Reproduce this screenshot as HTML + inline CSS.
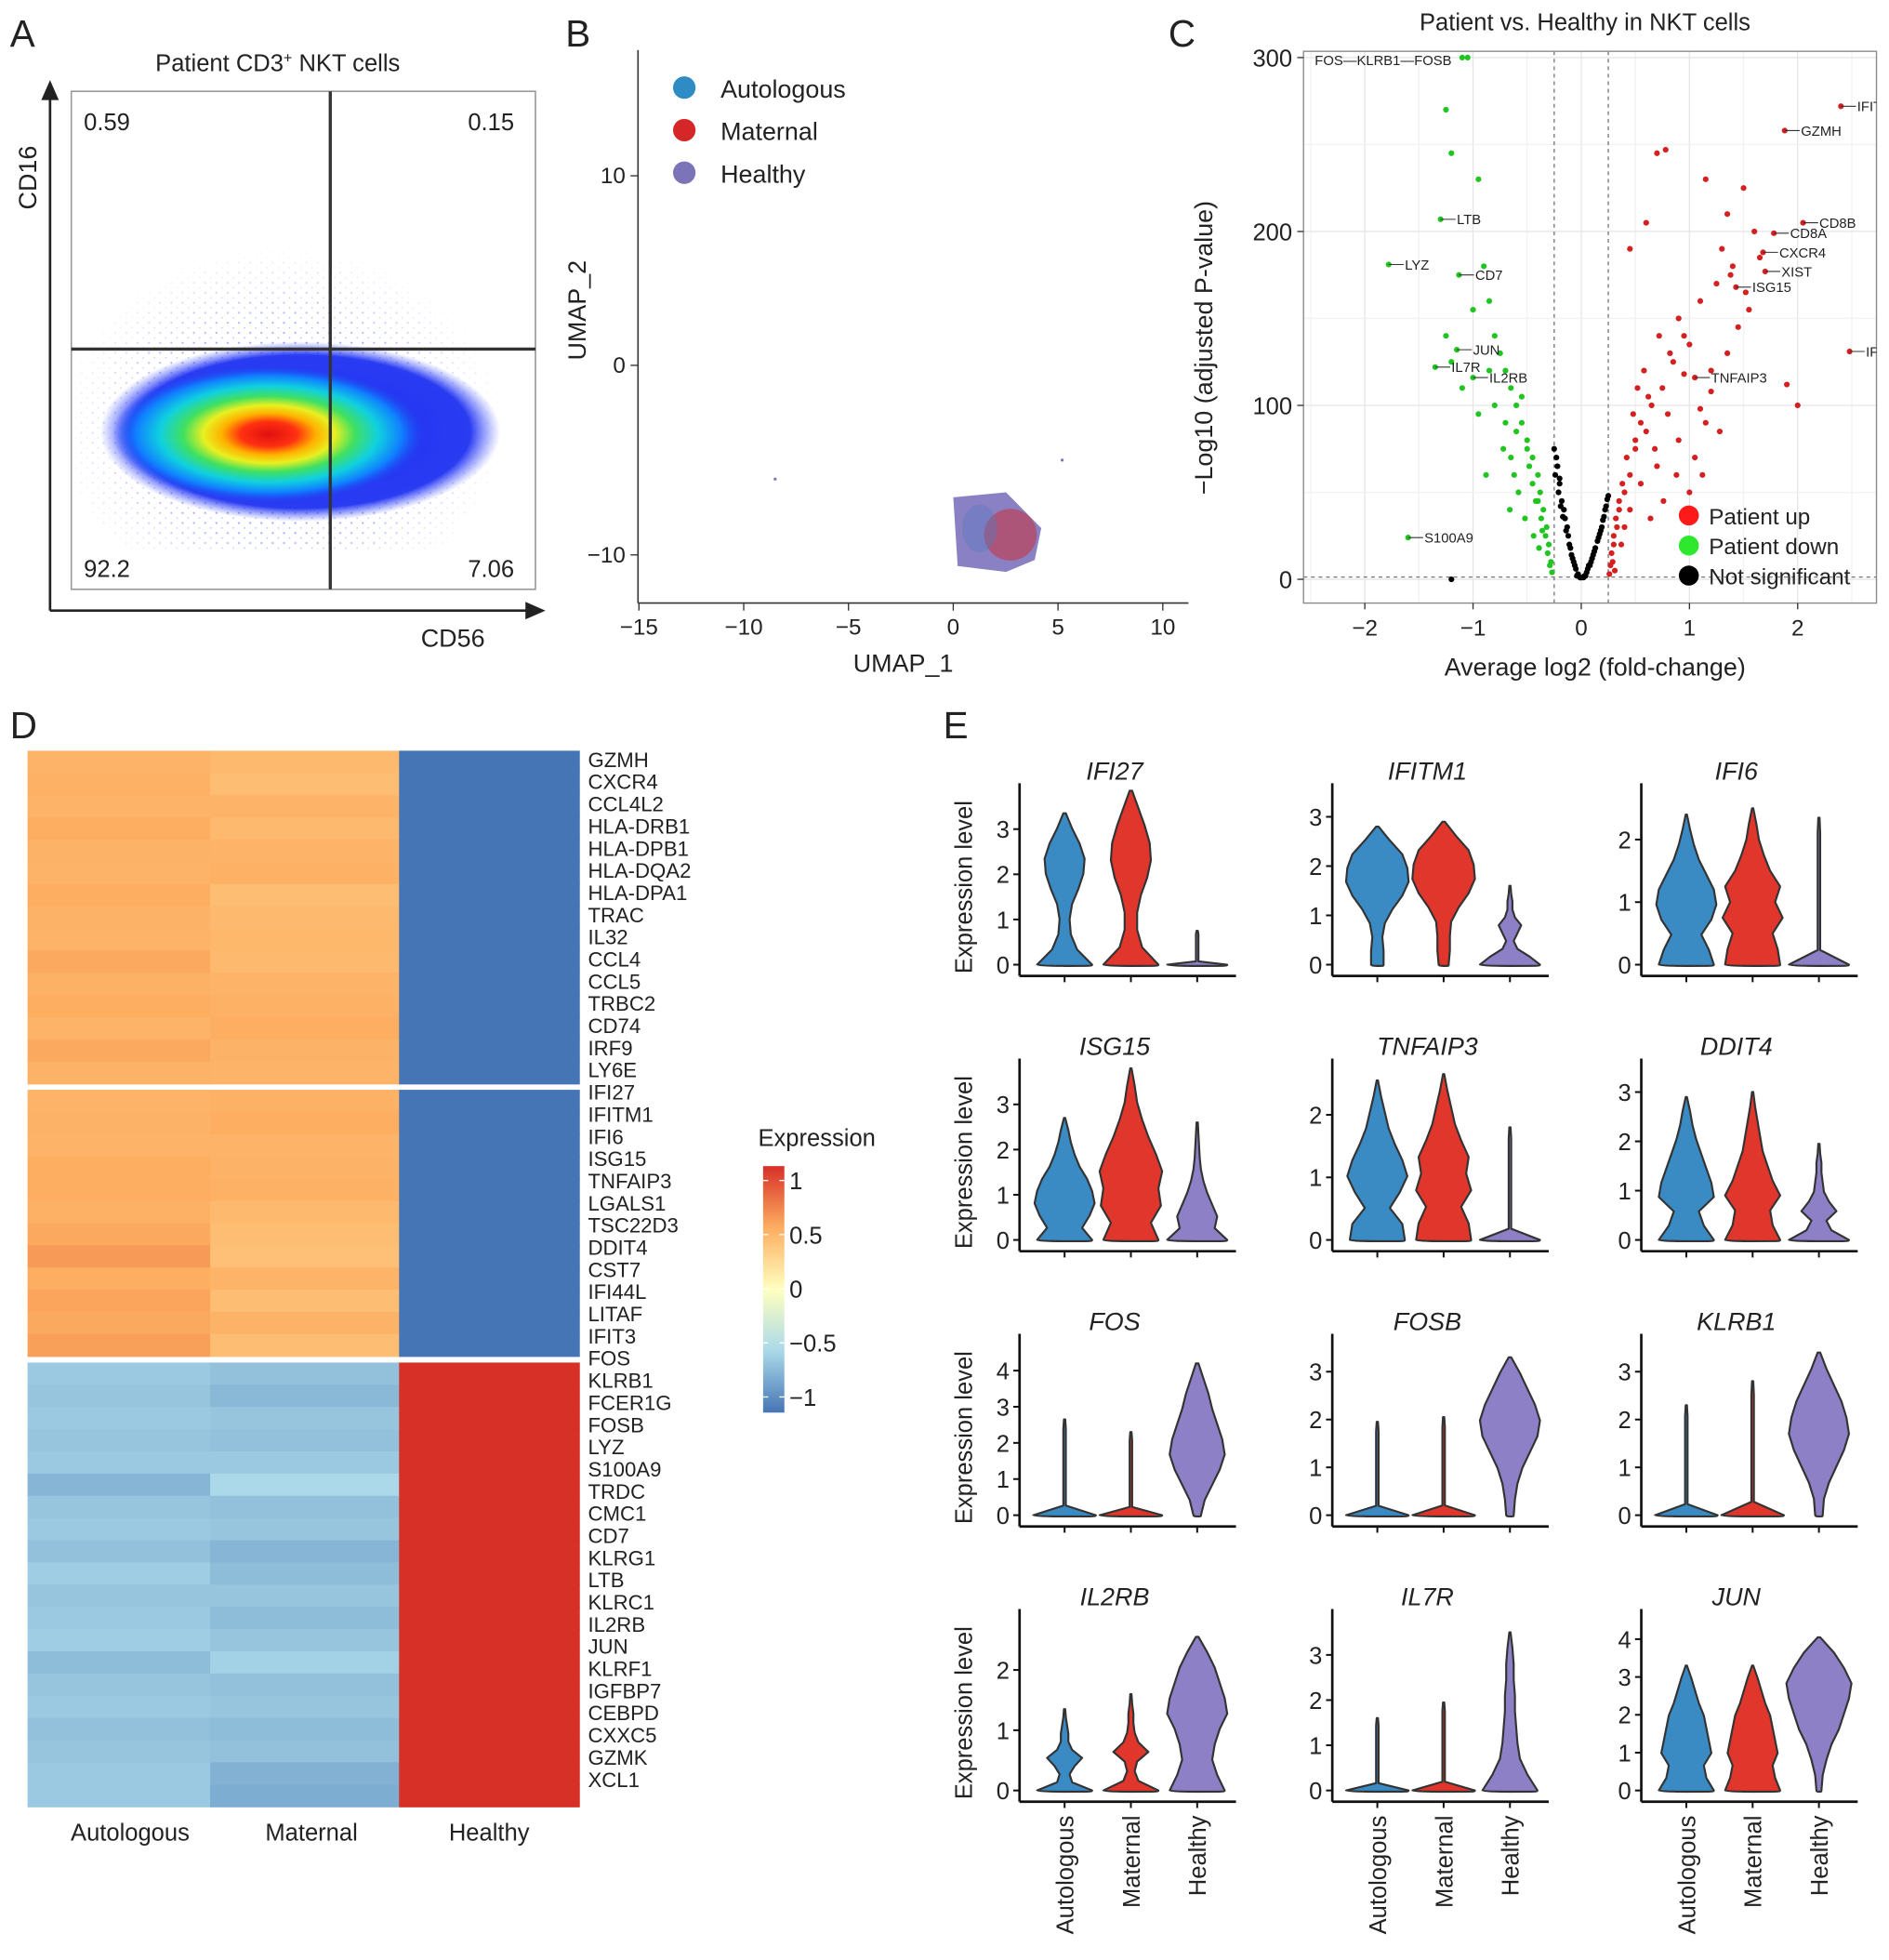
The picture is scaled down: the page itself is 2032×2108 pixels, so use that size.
<!DOCTYPE html>
<html><head><meta charset="utf-8"><style>
html,body{margin:0;padding:0;background:#fff}
svg{display:block}
text{font-family:"Liberation Sans",Arial,sans-serif;fill:#222}
</style></head><body>
<svg id="fig" width="2032" height="2108" viewBox="0 0 1510 1566.5" xmlns="http://www.w3.org/2000/svg">
<defs>
<radialGradient id="gBlue" cx="50%" cy="50%" r="50%"><stop offset="0" stop-color="#1a2cf0"/><stop offset="0.85" stop-color="#2a3cf2"/><stop offset="1" stop-color="#5060ff" stop-opacity="0"/></radialGradient>
<radialGradient id="gJet" cx="50%" cy="50%" r="50%"><stop offset="0" stop-color="#e01010"/><stop offset="0.18" stop-color="#ff3010"/><stop offset="0.3" stop-color="#ffb000"/><stop offset="0.42" stop-color="#e8f020"/><stop offset="0.55" stop-color="#40e060"/><stop offset="0.7" stop-color="#10d0e0"/><stop offset="0.85" stop-color="#1080ff"/><stop offset="1" stop-color="#2040f0" stop-opacity="0"/></radialGradient>
<radialGradient id="gFade" cx="50%" cy="55%" r="50%"><stop offset="0" stop-color="#fff" stop-opacity="1"/><stop offset="0.6" stop-color="#fff" stop-opacity="0.6"/><stop offset="1" stop-color="#fff" stop-opacity="0"/></radialGradient>
<mask id="fadeMask"><ellipse cx="225" cy="330" rx="180" ry="150" fill="url(#gFade)"/></mask>
<pattern id="dots" width="9" height="8" patternUnits="userSpaceOnUse"><circle cx="2" cy="2" r="0.8" fill="#3040ff"/><circle cx="6.5" cy="6" r="0.6" fill="#5060ff"/></pattern>
<linearGradient id="cbar" x1="0" y1="1" x2="0" y2="0"><stop offset="0" stop-color="#4575b4"/><stop offset="0.25" stop-color="#abd9e9"/><stop offset="0.5" stop-color="#ffffbf"/><stop offset="0.75" stop-color="#fdae61"/><stop offset="1" stop-color="#d73027"/></linearGradient>
</defs>

<g>
<text x="8" y="37" font-size="30">A</text>
<text x="222" y="57" font-size="19" text-anchor="middle">Patient CD3<tspan dy="-7" font-size="12">+</tspan><tspan dy="7"> NKT cells</tspan></text>
<rect x="57" y="73" width="371" height="398" fill="none" stroke="#999" stroke-width="1.2"/>
<rect x="57" y="140" width="371" height="300" fill="url(#dots)" mask="url(#fadeMask)" opacity="0.7"/>
<ellipse cx="240" cy="345" rx="160" ry="72" fill="url(#gBlue)"/>
<ellipse cx="215" cy="347" rx="125" ry="55" fill="url(#gJet)"/>
<line x1="57" y1="279" x2="428" y2="279" stroke="#333" stroke-width="2.5"/>
<line x1="264" y1="73" x2="264" y2="471" stroke="#333" stroke-width="2.5"/>
<text x="67" y="104" font-size="19">0.59</text>
<text x="411" y="104" font-size="19" text-anchor="end">0.15</text>
<text x="67" y="461" font-size="19">92.2</text>
<text x="411" y="461" font-size="19" text-anchor="end">7.06</text>
<line x1="40" y1="488" x2="40" y2="75" stroke="#222" stroke-width="2"/>
<polygon points="40,64 33,80 47,80" fill="#222"/>
<line x1="40" y1="488" x2="425" y2="488" stroke="#222" stroke-width="2"/>
<polygon points="436,488 420,481 420,495" fill="#222"/>
<text transform="translate(29,142) rotate(-90)" font-size="20" text-anchor="middle">CD16</text>
<text x="362" y="517" font-size="20" text-anchor="middle">CD56</text>
</g>

<g id="pB">
<text x="452" y="37" font-size="30">B</text>
</g>
<g id="pC">
<text x="934" y="37" font-size="30">C</text>
</g>
<g id="pD">
<text x="8" y="590" font-size="30">D</text>
</g>
<g id="pE">
<text x="754" y="590" font-size="30">E</text>
</g>
</svg>
<script>
const NS='http://www.w3.org/2000/svg';
function mk(parent,tag,attrs,txt){const e=document.createElementNS(NS,tag);for(const k in attrs)e.setAttribute(k,attrs[k]);if(txt!==undefined)e.textContent=txt;parent.appendChild(e);return e;}

/* ---------- Panel B data ---------- */
const umapXTicks=[-15,-10,-5,0,5,10];
const umapYTicks=[-10,0,10];
const umapGroups=['Autologous','Maternal','Healthy'];
const umapColors=['#2f8bc4','#d62728','#7b74b8'];
const umapOutlierX=[-8.5,5.2];
const umapOutlierY=[-6,-5];
const umapClusterX=[0,4.2];
const umapClusterY=[-6.7,-10.9];

/* ---------- Panel C data ---------- */
const volXTicks=[-2,-1,0,1,2];
const volYTicks=[0,100,200,300];
const upX=[2.4,1.88,2.05,1.78,1.68,1.7,1.43,2.48,1.05,0.45,0.6,0.7,0.78,1.15,1.35,1.5,1.3,1.4,1.25,1.1,0.95,0.85,0.75,0.65,0.55,0.5,0.42,0.38,0.35,0.32,0.3,0.28,0.27,0.26,0.9,1.0,1.2,1.6,1.9,2.0,1.55,1.45,1.35,1.2,0.8,0.6,0.5,0.45,0.4,0.35,0.33,0.3,0.7,0.9,1.05,1.15,0.58,0.62,0.48,0.52,1.52,1.65,1.38,0.72,0.82,0.95,1.1,0.45,0.37,0.29,0.31,0.4,0.55,0.68,0.88,1.0,1.28,1.12,0.76,0.64];
const upY=[272,258,205,199,188,177,168,131,116,190,205,245,247,230,210,225,190,180,170,160,140,125,110,100,90,80,70,55,45,35,25,15,8,3,150,135,120,200,112,100,155,145,130,108,95,85,75,60,50,40,30,20,65,80,70,90,120,105,95,110,165,185,175,140,130,118,98,40,20,10,5,30,55,75,60,50,85,60,45,35];
const downX=[-1.3,-1.78,-1.13,-1.15,-1.35,-1.0,-1.6,-1.2,-1.25,-1.05,-0.95,-0.9,-0.85,-0.8,-0.7,-0.65,-0.6,-0.55,-0.5,-0.45,-0.4,-0.38,-0.35,-0.32,-0.3,-0.28,-0.27,-1.1,-0.75,-0.6,-0.5,-0.45,-0.42,-0.37,-0.33,-0.55,-0.7,-0.85,-1.0,-0.8,-0.65,-0.48,-0.4,-0.36,-0.31,-1.25,-1.1,-0.95,-0.62,-0.58,-0.52,-0.44,-0.39,-0.29,-0.72,-0.88,-1.2,-0.66];
const downY=[207,181,175,132,122,116,24,245,270,300,230,180,160,140,120,110,100,90,80,70,60,50,40,30,20,10,4,300,130,85,75,55,45,35,25,105,90,120,155,100,70,65,45,28,15,140,110,95,60,50,35,25,18,8,75,60,125,40];
const nsX=[-0.25,-0.22,-0.2,-0.18,-0.15,-0.12,-0.1,-0.08,-0.05,-0.03,0,0.03,0.05,0.08,0.1,0.12,0.15,0.18,0.2,0.22,0.25,-0.24,-0.21,-0.19,-0.17,-0.14,-0.11,-0.09,-0.06,0.06,0.09,0.13,0.16,0.19,0.23,-0.23,-0.2,-0.16,-0.13,-0.07,0.07,0.11,0.17,0.21,0.24,-1.2,0.02,-0.01,-0.04,0.04];
const nsY=[75,65,55,45,35,25,18,12,6,3,1,2,4,8,12,16,22,28,34,40,48,60,50,42,36,28,20,14,8,6,10,18,24,30,42,70,58,40,30,10,8,14,26,36,46,0,1,1,2,2];
const volLabels=['IFITM1','GZMH','CD8B','CD8A','CXCR4','XIST','ISG15','IFI27','TNFAIP3','LTB','LYZ','CD7','JUN','IL7R','IL2RB','S100A9'];
const volLabX=[2.4,1.88,2.05,1.78,1.68,1.7,1.43,2.48,1.05,-1.3,-1.78,-1.13,-1.15,-1.35,-1.0,-1.6];
const volLabY=[272,258,205,199,188,177,168,131,116,207,181,175,132,122,116,24];

/* ---------- Panel D data ---------- */
const genes=['GZMH','CXCR4','CCL4L2','HLA-DRB1','HLA-DPB1','HLA-DQA2','HLA-DPA1','TRAC','IL32','CCL4','CCL5','TRBC2','CD74','IRF9','LY6E','IFI27','IFITM1','IFI6','ISG15','TNFAIP3','LGALS1','TSC22D3','DDIT4','CST7','IFI44L','LITAF','IFIT3','FOS','KLRB1','FCER1G','FOSB','LYZ','S100A9','TRDC','CMC1','CD7','KLRG1','LTB','KLRC1','IL2RB','JUN','KLRF1','IGFBP7','CEBPD','CXXC5','GZMK','XCL1'];
const blockSizes=[15,12,20];
const autoVals=[0.46,0.48,0.46,0.5,0.47,0.46,0.5,0.47,0.46,0.52,0.48,0.5,0.46,0.52,0.47, 0.46,0.47,0.46,0.5,0.5,0.48,0.52,0.58,0.5,0.54,0.52,0.56, -0.58,-0.6,-0.58,-0.6,-0.58,-0.68,-0.6,-0.58,-0.62,-0.56,-0.6,-0.58,-0.56,-0.64,-0.6,-0.58,-0.62,-0.6,-0.58,-0.58,-0.56];
const matVals=[0.43,0.41,0.46,0.43,0.46,0.48,0.41,0.43,0.44,0.43,0.46,0.48,0.5,0.47,0.46, 0.48,0.5,0.46,0.47,0.48,0.43,0.41,0.39,0.46,0.41,0.47,0.41, -0.62,-0.66,-0.6,-0.62,-0.58,-0.5,-0.62,-0.6,-0.68,-0.64,-0.6,-0.64,-0.6,-0.54,-0.62,-0.6,-0.64,-0.62,-0.7,-0.72,-0.6];
const healthyVals=[-1,-1,-1,-1,-1,-1,-1,-1,-1,-1,-1,-1,-1,-1,-1, -1,-1,-1,-1,-1,-1,-1,-1,-1,-1,-1,-1, 1,1,1,1,1,1,1,1,1,1,1,1,1,1,1,1,1,1,1,1,1];
const legendTicks=[1,0.5,0,-0.5,-1];

/* ---------- Panel E data ---------- */
const vGenes=['IFI27','IFITM1','IFI6','ISG15','TNFAIP3','DDIT4','FOS','FOSB','KLRB1','IL2RB','IL7R','JUN'];
const vTicks=[[0,1,2,3],[0,1,2,3],[0,1,2],[0,1,2,3],[0,1,2],[0,1,2,3],[0,1,2,3,4],[0,1,2,3],[0,1,2,3],[0,1,2],[0,1,2,3],[0,1,2,3,4]];
const vYMax=[3.6,3.3,2.6,3.6,2.6,3.3,4.5,3.4,3.4,2.7,3.6,4.3];
const vMax=[[3.35,3.85,0.75],[2.8,2.9,1.6],[2.4,2.5,2.35],[2.7,3.8,2.6],[2.55,2.65,1.8],[2.9,3.0,1.95],[2.65,2.3,4.2],[1.95,2.05,3.3],[2.3,2.8,3.4],[1.35,1.6,2.55],[1.6,1.95,3.5],[3.3,3.3,4.05]];
const vProf=[
 [[22,10,5,4,6,11,15,16,12,6,1],[22,9,5,5,8,13,16,15,11,6,1],[24,1,1,1,1,1,1,1,1,1,0.5]],
 [[5,5,4,6,12,20,25,24,20,10,1],[4,5,5,6,12,20,25,24,20,10,1],[24,16,6,3,6,9,4,2,2,1,0.5]],
 [[22,18,12,20,24,22,16,10,6,3,0.5],[22,20,16,24,18,22,14,9,5,3,0.5],[24,1,1,1,1,1,1,1,1,1,0.5]],
 [[22,14,20,24,22,18,12,8,5,3,0.5],[22,16,24,22,25,20,14,9,5,3,0.5],[24,14,16,12,8,5,3,2,1.5,1,0.5]],
 [[22,20,10,18,24,20,14,9,6,3,0.5],[22,20,14,22,18,20,14,9,6,3,0.5],[24,1,1,1,1,1,1,1,1,1,0.5]],
 [[22,14,10,22,20,16,12,8,5,3,0.5],[22,16,14,22,16,12,8,6,4,2,0.5],[24,10,6,14,8,4,3,2,2,1,0.5]],
 [[25,1,1,1,1,1,1,1,1,1,0.5],[25,1,1,1,1,1,1,1,1,1,0.5],[3,6,12,18,22,20,16,12,9,5,1]],
 [[25,1,1,1,1,1,1,1,1,1,0.5],[25,1,1,1,1,1,1,1,1,1,0.5],[3,4,6,10,16,22,24,20,14,8,1]],
 [[25,1,1,1,1,1,1,1,1,1,0.5],[25,1,1,1,1,1,1,1,1,1,0.5],[3,4,8,14,20,24,22,18,12,6,1]],
 [[22,6,4,8,14,6,3,3,2,1,0.5],[22,6,3,5,14,6,3,2,2,1,0.5],[22,16,12,14,18,24,22,18,14,8,1]],
 [[25,1,1,1,1,1,1,1,1,1,0.5],[25,1,1,1,1,1,1,1,1,1,0.5],[22,14,8,6,5,4,4,3,3,2,0.5]],
 [[22,16,14,20,18,16,14,10,7,4,0.5],[22,18,16,20,18,16,14,10,7,4,0.5],[2,3,6,10,16,20,24,26,20,12,1]]
];
const vColors=['#3a8ac4','#e0362c','#8e80c6'];
const vGroups=['Autologous','Maternal','Healthy'];

/* ===== Panel B ===== */
(function(){
 const g=document.getElementById('pB');
 const X=v=>762+v*16.75, Y=v=>292-v*15.15;
 mk(g,'line',{x1:510,y1:40,x2:510,y2:482,stroke:'#333','stroke-width':1.2});
 mk(g,'line',{x1:510,y1:482,x2:950,y2:482,stroke:'#333','stroke-width':1.2});
 umapXTicks.forEach(t=>{mk(g,'line',{x1:X(t),y1:482,x2:X(t),y2:488,stroke:'#333'});const tx=mk(g,'text',{x:X(t),y:507,'font-size':18,'text-anchor':'middle'},(t<0?'\u2212'+(-t):t));});
 umapYTicks.forEach(t=>{mk(g,'line',{x1:504,y1:Y(t),x2:510,y2:Y(t),stroke:'#333'});const tx=mk(g,'text',{x:500,y:Y(t)+6,'font-size':18,'text-anchor':'end'},(t<0?'\u2212'+(-t):t));});
 const xt=mk(g,'text',{x:722,y:537,'font-size':20,'text-anchor':'middle'},'UMAP_1');
 const yt=mk(g,'text',{transform:'translate(468,248) rotate(-90)','font-size':20,'text-anchor':'middle'},'UMAP_2');
 umapGroups.forEach((n,i)=>{const c=mk(g,'circle',{cx:547,cy:70+i*34,r:9,fill:umapColors[i]});
  const t=mk(g,'text',{x:576,y:78+i*34,'font-size':20},n);});
 umapOutlierX.forEach((x,i)=>{const c=mk(g,'circle',{cx:X(x),cy:Y(umapOutlierY[i]),r:1.2,fill:'#7b74b8'});});
 const cx=(X(umapClusterX[0])+X(umapClusterX[1]))/2, cy=(Y(umapClusterY[0])+Y(umapClusterY[1]))/2;
 const rx=(X(umapClusterX[1])-X(umapClusterX[0]))/2, ry=(Y(umapClusterY[1])-Y(umapClusterY[0]))/2;
 const cl=mk(g,'path',{d:`M${cx-rx},${cy-ry+4} L${cx+rx*0.2},${cy-ry} L${cx+rx},${cy-ry*0.1} L${cx+rx*0.85},${cy+ry*0.7} L${cx+rx*0.2},${cy+ry} L${cx-rx*0.9},${cy+ry*0.85} Z`,fill:'#8a80c4'});
 
 mk(g,'ellipse',{cx:cx+rx*0.3,cy:cy+2,rx:rx*0.6,ry:ry*0.65,fill:'#c8323a',opacity:0.55});
 mk(g,'ellipse',{cx:cx-rx*0.4,cy:cy-3,rx:rx*0.4,ry:ry*0.6,fill:'#5878c0',opacity:0.4});
})();

/* ===== Panel C ===== */
(function(){
 const g=document.getElementById('pC');
 const X=v=>1264+v*86.5, Y=v=>463-v*1.39;
 const t0=mk(g,'text',{x:1267,y:24,'font-size':19,'text-anchor':'middle'},'Patient vs. Healthy in NKT cells');
 const cp=mk(g,'clipPath',{id:'volclip'});mk(cp,'rect',{x:1042,y:41,width:458,height:441});
 [-2.5,-1.5,-0.5,0.5,1.5,2.5].forEach(t=>mk(g,'line',{x1:X(t),y1:41,x2:X(t),y2:482,stroke:'#f2f2f2'}));
 volXTicks.forEach(t=>mk(g,'line',{x1:X(t),y1:41,x2:X(t),y2:482,stroke:'#e6e6e6'}));
 [50,150,250].forEach(t=>mk(g,'line',{x1:1042,y1:Y(t),x2:1500,y2:Y(t),stroke:'#f2f2f2'}));
 volYTicks.forEach(t=>mk(g,'line',{x1:1042,y1:Y(t),x2:1500,y2:Y(t),stroke:'#e6e6e6'}));
 mk(g,'line',{x1:X(-0.25),y1:41,x2:X(-0.25),y2:482,stroke:'#777','stroke-dasharray':'3,3'});
 mk(g,'line',{x1:X(0.25),y1:41,x2:X(0.25),y2:482,stroke:'#777','stroke-dasharray':'3,3'});
 mk(g,'line',{x1:1042,y1:Y(1.3),x2:1500,y2:Y(1.3),stroke:'#777','stroke-dasharray':'3,3'});
 mk(g,'rect',{x:1042,y:41,width:458,height:441,fill:'none',stroke:'#888'});
 volXTicks.forEach(t=>{mk(g,'line',{x1:X(t),y1:482,x2:X(t),y2:487,stroke:'#333'});const tx=mk(g,'text',{x:X(t),y:508,'font-size':18,'text-anchor':'middle'},t<0?'\u2212'+(-t):t);});
 volYTicks.forEach(t=>{mk(g,'line',{x1:1037,y1:Y(t),x2:1042,y2:Y(t),stroke:'#333'});const tx=mk(g,'text',{x:1033,y:Y(t)+7,'font-size':19,'text-anchor':'end'},t);});
 const xt=mk(g,'text',{x:1275,y:540,'font-size':20,'text-anchor':'middle'},'Average log2 (fold-change)');
 const yt=mk(g,'text',{transform:'translate(969,278) rotate(-90)','font-size':20,'text-anchor':'middle'},'\u2212Log10 (adjusted P-value)');
 const pg=mk(g,'g',{'clip-path':'url(#volclip)'});
 nsX.forEach((x,i)=>{const c=mk(pg,'circle',{cx:X(x),cy:Y(nsY[i]),r:2.3,fill:'#000'});});
 downX.forEach((x,i)=>{const c=mk(pg,'circle',{cx:X(x),cy:Y(downY[i]),r:2.3,fill:'#22c422'});});
 upX.forEach((x,i)=>{const c=mk(pg,'circle',{cx:X(x),cy:Y(upY[i]),r:2.3,fill:'#d42020'});});
 volLabels.forEach((l,i)=>{const x=X(volLabX[i]),y=Y(volLabY[i]);
  mk(pg,'line',{x1:x,y1:y,x2:x+12,y2:y,stroke:'#333','stroke-width':0.8});
  const t=mk(pg,'text',{x:x+13,y:y+4,'font-size':11},l);});
 const tt=mk(pg,'text',{x:1051,y:52,'font-size':11},'FOS\u2014KLRB1\u2014FOSB');
 [['Patient up','#ff1a1a'],['Patient down','#2ee82e'],['Not significant','#000']].forEach((d,i)=>{
  const c=mk(g,'circle',{cx:1350,cy:412+i*24,r:8,fill:d[1]});
  const t=mk(g,'text',{x:1366,y:419+i*24,'font-size':18},d[0]);});
})();

/* ===== Panel D ===== */
(function(){
 const g=document.getElementById('pD');
 const stops=[[-1,[69,117,180]],[-0.5,[171,217,233]],[0,[255,255,191]],[0.5,[253,174,97]],[1,[215,48,39]]];
 function col(v){v=Math.max(-1,Math.min(1,v));for(let i=0;i<4;i++){const a=stops[i],b=stops[i+1];if(v<=b[0]){const f=(v-a[0])/(b[0]-a[0]);return 'rgb('+a[1].map((c,k)=>Math.round(c+(b[1][k]-c)*f)).join(',')+')';}}}
 const colX=[22,168,319,463], rowH=17.75, blockStart=[600,871,1089];
 let gi=0;
 blockSizes.forEach((n,b)=>{for(let r=0;r<n;r++,gi++){const y=blockStart[b]+r*rowH;
  [autoVals,matVals,healthyVals].forEach((arr,c)=>{const rc=mk(g,'rect',{x:colX[c],y:y,width:colX[c+1]-colX[c]+0.5,height:rowH+0.5,fill:col(arr[gi])});});
 }});
 genes.forEach((n,i)=>{const t=mk(g,'text',{x:470,y:613+i*17.72,'font-size':16.5},n);});
 ['Autologous','Maternal','Healthy'].forEach((n,i)=>{const t=mk(g,'text',{x:[104,249,391][i],y:1471,'font-size':19,'text-anchor':'middle'},n);});
 const lt=mk(g,'text',{x:606,y:916,'font-size':19},'Expression');
 const cb=mk(g,'rect',{x:610,y:932,width:17,height:197,fill:'url(#cbar)'});
 legendTicks.forEach(v=>{const y=1030-v*86.5;mk(g,'line',{x1:610,y1:y,x2:614,y2:y,stroke:'#fff'});mk(g,'line',{x1:623,y1:y,x2:627,y2:y,stroke:'#fff'});
  const t=mk(g,'text',{x:631,y:y+7,'font-size':19},v<0?'\u2212'+(-v):v);});
})();

/* ===== Panel E ===== */
(function(){
 const g=document.getElementById('pE');
 const axX=[815,1065,1312], zeroY=[771,991,1211,1431], plotH=130;
 const cOff=[36,89,142];
 vGenes.forEach((gene,k)=>{
  const col=k%3,row=Math.floor(k/3), ax=axX[col], y0=zeroY[row];
  const scale=plotH/vYMax[k]; const Y=v=>y0-v*scale;
  const pg=mk(g,'g',{});
  const t=mk(pg,'text',{x:ax+76,y:y0-148,'font-size':20,'font-style':'italic','text-anchor':'middle'},gene);
  mk(pg,'line',{x1:ax,y1:y0-145,x2:ax,y2:y0+9,stroke:'#111','stroke-width':2});
  mk(pg,'line',{x1:ax,y1:y0+9,x2:ax+173,y2:y0+9,stroke:'#111','stroke-width':2});
  vTicks[k].forEach(v=>{mk(pg,'line',{x1:ax-5,y1:Y(v),x2:ax,y2:Y(v),stroke:'#111','stroke-width':1.5});
   const tx=mk(pg,'text',{x:ax-8,y:Y(v)+7,'font-size':19,'text-anchor':'end'},v);});
  if(col===0){const yl=mk(pg,'text',{transform:`translate(777,${y0-62}) rotate(-90)`,'font-size':19,'text-anchor':'middle'},'Expression level');}
  vGroups.forEach((gr,j)=>{
   const cx=ax+cOff[j], prof=vProf[k][j], mx=vMax[k][j];
   mk(pg,'line',{x1:cx,y1:y0+9,x2:cx,y2:y0+14,stroke:'#111','stroke-width':1.5});
   let L=[],R=[];
   prof.forEach((w,i)=>{const yy=Y(mx*i/10);R.push([cx+w,yy]);L.push([cx-w,yy]);});
   let d='M'+cx+','+(y0+1)+' ';
   d+='C'+(cx+prof[0])+','+(y0+1)+' '+R[0][0]+','+(y0+1)+' '+R[0][0]+','+R[0][1]+' ';
   for(let i=1;i<R.length;i++)d+='L'+R[i][0].toFixed(1)+','+R[i][1].toFixed(1)+' ';
   d+='L'+cx+','+Y(mx).toFixed(1)+' ';
   for(let i=L.length-1;i>=0;i--)d+='L'+L[i][0].toFixed(1)+','+L[i][1].toFixed(1)+' ';
   d+='C'+L[0][0]+','+(y0+1)+' '+cx+','+(y0+1)+' '+cx+','+(y0+1)+'Z';
   const p=mk(pg,'path',{d:d,fill:vColors[j],stroke:'#333','stroke-width':1.6,'stroke-linejoin':'round'});
   
   
   if(row===3){const tx=mk(g,'text',{transform:`translate(${cx+7},${y0+20}) rotate(-90)`,'font-size':19,'text-anchor':'end'},gr);}
  });
 });
})();
</script>
</body></html>
